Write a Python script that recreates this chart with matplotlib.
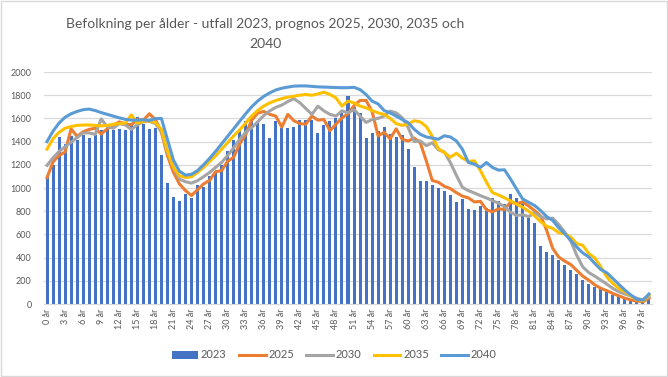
import matplotlib
matplotlib.use("Agg")
import matplotlib.pyplot as plt
import numpy as np
from matplotlib.patches import Rectangle

# Ålder 0-100 år
ages = list(range(101))

utfall_2023 = [
    1097, 1200, 1440, 1380, 1450, 1415, 1460, 1435, 1455, 1500,
    1550, 1500, 1505, 1500, 1560, 1615, 1555, 1510, 1515, 1285,
    1045, 925, 890, 945, 912, 1025, 1010, 1100, 1130, 1200,
    1320, 1410, 1490, 1575, 1600, 1580, 1550, 1435, 1580, 1515,
    1520, 1530, 1590, 1585, 1585, 1470, 1545, 1580, 1600, 1645,
    1790, 1700, 1650, 1430, 1470, 1490, 1530, 1465, 1440, 1460,
    1335, 1185, 1060, 1060, 1025, 1000, 975, 940, 882, 905,
    819, 810, 845, 825, 911, 888, 865, 946, 911, 868,
    739, 695, 500, 451, 422, 380, 335, 290, 260, 205,
    175, 150, 130, 110, 80, 62, 42, 32, 24, 20,
    45,
]

prognos_2025 = [
    1090, 1225, 1280, 1310, 1510, 1445, 1485, 1505, 1515, 1465,
    1510, 1540, 1570, 1550, 1545, 1590, 1585, 1640, 1590, 1480,
    1280, 1135, 1035, 978, 935, 985, 1035, 1065, 1140, 1150,
    1230, 1265, 1380, 1460, 1585, 1645, 1660, 1635, 1620, 1525,
    1635, 1580, 1555, 1550, 1620, 1585, 1590, 1495, 1550, 1605,
    1640, 1710, 1755, 1755, 1660, 1450, 1480, 1425, 1510, 1420,
    1405, 1430, 1390, 1235, 1065, 1050, 1015, 995, 960, 930,
    915, 880, 885, 812, 795, 820, 815, 878, 865, 880,
    845, 805, 760, 635, 480, 405, 370, 340, 290, 240,
    205, 165, 135, 115, 90, 70, 50, 35, 26, 20,
    50,
]

prognos_2030 = [
    1195, 1260, 1315, 1355, 1395, 1435, 1475, 1475, 1462, 1595,
    1530, 1515, 1555, 1545, 1505, 1545, 1570, 1575, 1555, 1490,
    1305, 1177, 1077, 1054, 1042, 1063, 1097, 1134, 1177, 1220,
    1280, 1345, 1420, 1480, 1520, 1570, 1625, 1665, 1695, 1715,
    1745, 1770, 1735, 1685, 1635, 1705, 1665, 1635, 1620, 1665,
    1648, 1677, 1620, 1565, 1590, 1600, 1620, 1663, 1648, 1606,
    1520, 1400, 1406, 1365, 1390, 1330, 1310, 1220, 1110, 1006,
    977, 957, 934, 914, 891, 869, 840, 791, 763, 769,
    754, 783, 754, 734, 740, 686, 620, 543, 420, 320,
    271, 240, 206, 171, 134, 106, 86, 69, 49, 34,
    63,
]

prognos_2035 = [
    1335, 1425, 1480, 1515, 1530, 1540, 1543, 1543, 1540, 1535,
    1540, 1549, 1555, 1560, 1630, 1560, 1575, 1578, 1565, 1506,
    1320, 1177, 1106, 1091, 1097, 1134, 1177, 1229, 1277, 1334,
    1391, 1449, 1500, 1560, 1620, 1668, 1706, 1734, 1754, 1771,
    1783, 1791, 1800, 1806, 1800, 1811, 1826, 1806, 1777, 1706,
    1749, 1734, 1706, 1691, 1668, 1648, 1634, 1600, 1555, 1540,
    1549, 1580, 1570, 1530, 1445, 1340, 1305, 1265, 1300, 1257,
    1230, 1234, 1150, 1050, 960, 940, 915, 890, 860, 835,
    800, 760, 710, 670, 652, 615, 606, 577, 520, 506,
    434, 397, 320, 234, 177, 134, 106, 69, 40, 29,
    77,
]

prognos_2040 = [
    1400, 1490, 1560, 1610, 1640, 1660, 1675, 1680, 1668, 1650,
    1635, 1620, 1605, 1592, 1585, 1585, 1588, 1582, 1598, 1600,
    1420, 1240, 1145, 1111, 1118, 1150, 1200, 1255, 1315, 1380,
    1445, 1510, 1575, 1640, 1700, 1750, 1790, 1820, 1845, 1860,
    1870, 1878, 1880, 1880, 1876, 1872, 1870, 1868, 1866, 1864,
    1865, 1868, 1848, 1806, 1749, 1725, 1668, 1648, 1620, 1591,
    1563, 1506, 1463, 1440, 1430, 1420, 1450, 1440, 1406, 1334,
    1220, 1206, 1177, 1220, 1177, 1154, 1157, 1077, 991, 906,
    877, 849, 806, 754, 720, 657, 606, 549, 491, 440,
    406, 349, 297, 269, 220, 169, 120, 77, 40, 34,
    86,
]

title = "Befolkning per ålder - utfall 2023, prognos 2025, 2030, 2035 och\n2040"
text_color = "#595959"
grid_color = "#D9D9D9"

plt.rcParams["font.family"] = ["Lato", "DejaVu Sans"]

fig = plt.figure(figsize=(6.68, 3.77), dpi=100)
ax = fig.add_axes([44 / 668, 1 - 304 / 377, 608 / 668, 232 / 377])

x = np.array(ages)
ax.bar(x, utfall_2023, width=0.5, color="#4472C4", label="2023", zorder=2)
ax.plot(x, prognos_2025, color="#ED7D31", lw=2.2, label="2025", zorder=3)
ax.plot(x, prognos_2030, color="#A5A5A5", lw=2.2, label="2030", zorder=3)
ax.plot(x, prognos_2035, color="#FFC000", lw=2.2, label="2035", zorder=3)
ax.plot(x, prognos_2040, color="#5B9BD5", lw=2.2, label="2040", zorder=3)

ax.set_xlim(-0.5, len(ages) - 0.5)
ax.set_ylim(0, 2000)
ax.set_yticks(range(0, 2001, 200))
tick_pos = ages[::3][:34]
ax.set_xticks(tick_pos)
ax.set_xticklabels([f"{a} år" for a in tick_pos], rotation=90)
ax.tick_params(axis="both", length=0, colors=text_color, labelsize=6.5)
ax.tick_params(axis="y", pad=9)
ax.tick_params(axis="x", pad=3.5)
ax.grid(True, axis="y", color=grid_color, lw=0.9, zorder=0)
ax.set_axisbelow(True)
for side in ("top", "right", "left"):
    ax.spines[side].set_visible(False)
ax.spines["bottom"].set_color(grid_color)

fig.text(265 / 668, 1 - 34 / 377, title, ha="center", va="center",
         fontsize=10, color=text_color, linespacing=1.75)

# Legend order as in the original: bars first, then the forecast lines
handles, labels = ax.get_legend_handles_labels()
order = [labels.index(l) for l in ["2023", "2025", "2030", "2035", "2040"]]
fig.legend([handles[i] for i in order], [labels[i] for i in order],
           loc="center", bbox_to_anchor=(0.5, 1 - 355 / 377), ncol=5,
           frameon=False, fontsize=8, handlelength=2.4, handletextpad=0.25,
           columnspacing=1.1, labelcolor=text_color)

fig.patches.append(Rectangle((0.001, 0.002), 0.997, 0.995, transform=fig.transFigure,
                             fill=False, edgecolor=grid_color, lw=1))

fig.savefig("out.png", dpi=100)
